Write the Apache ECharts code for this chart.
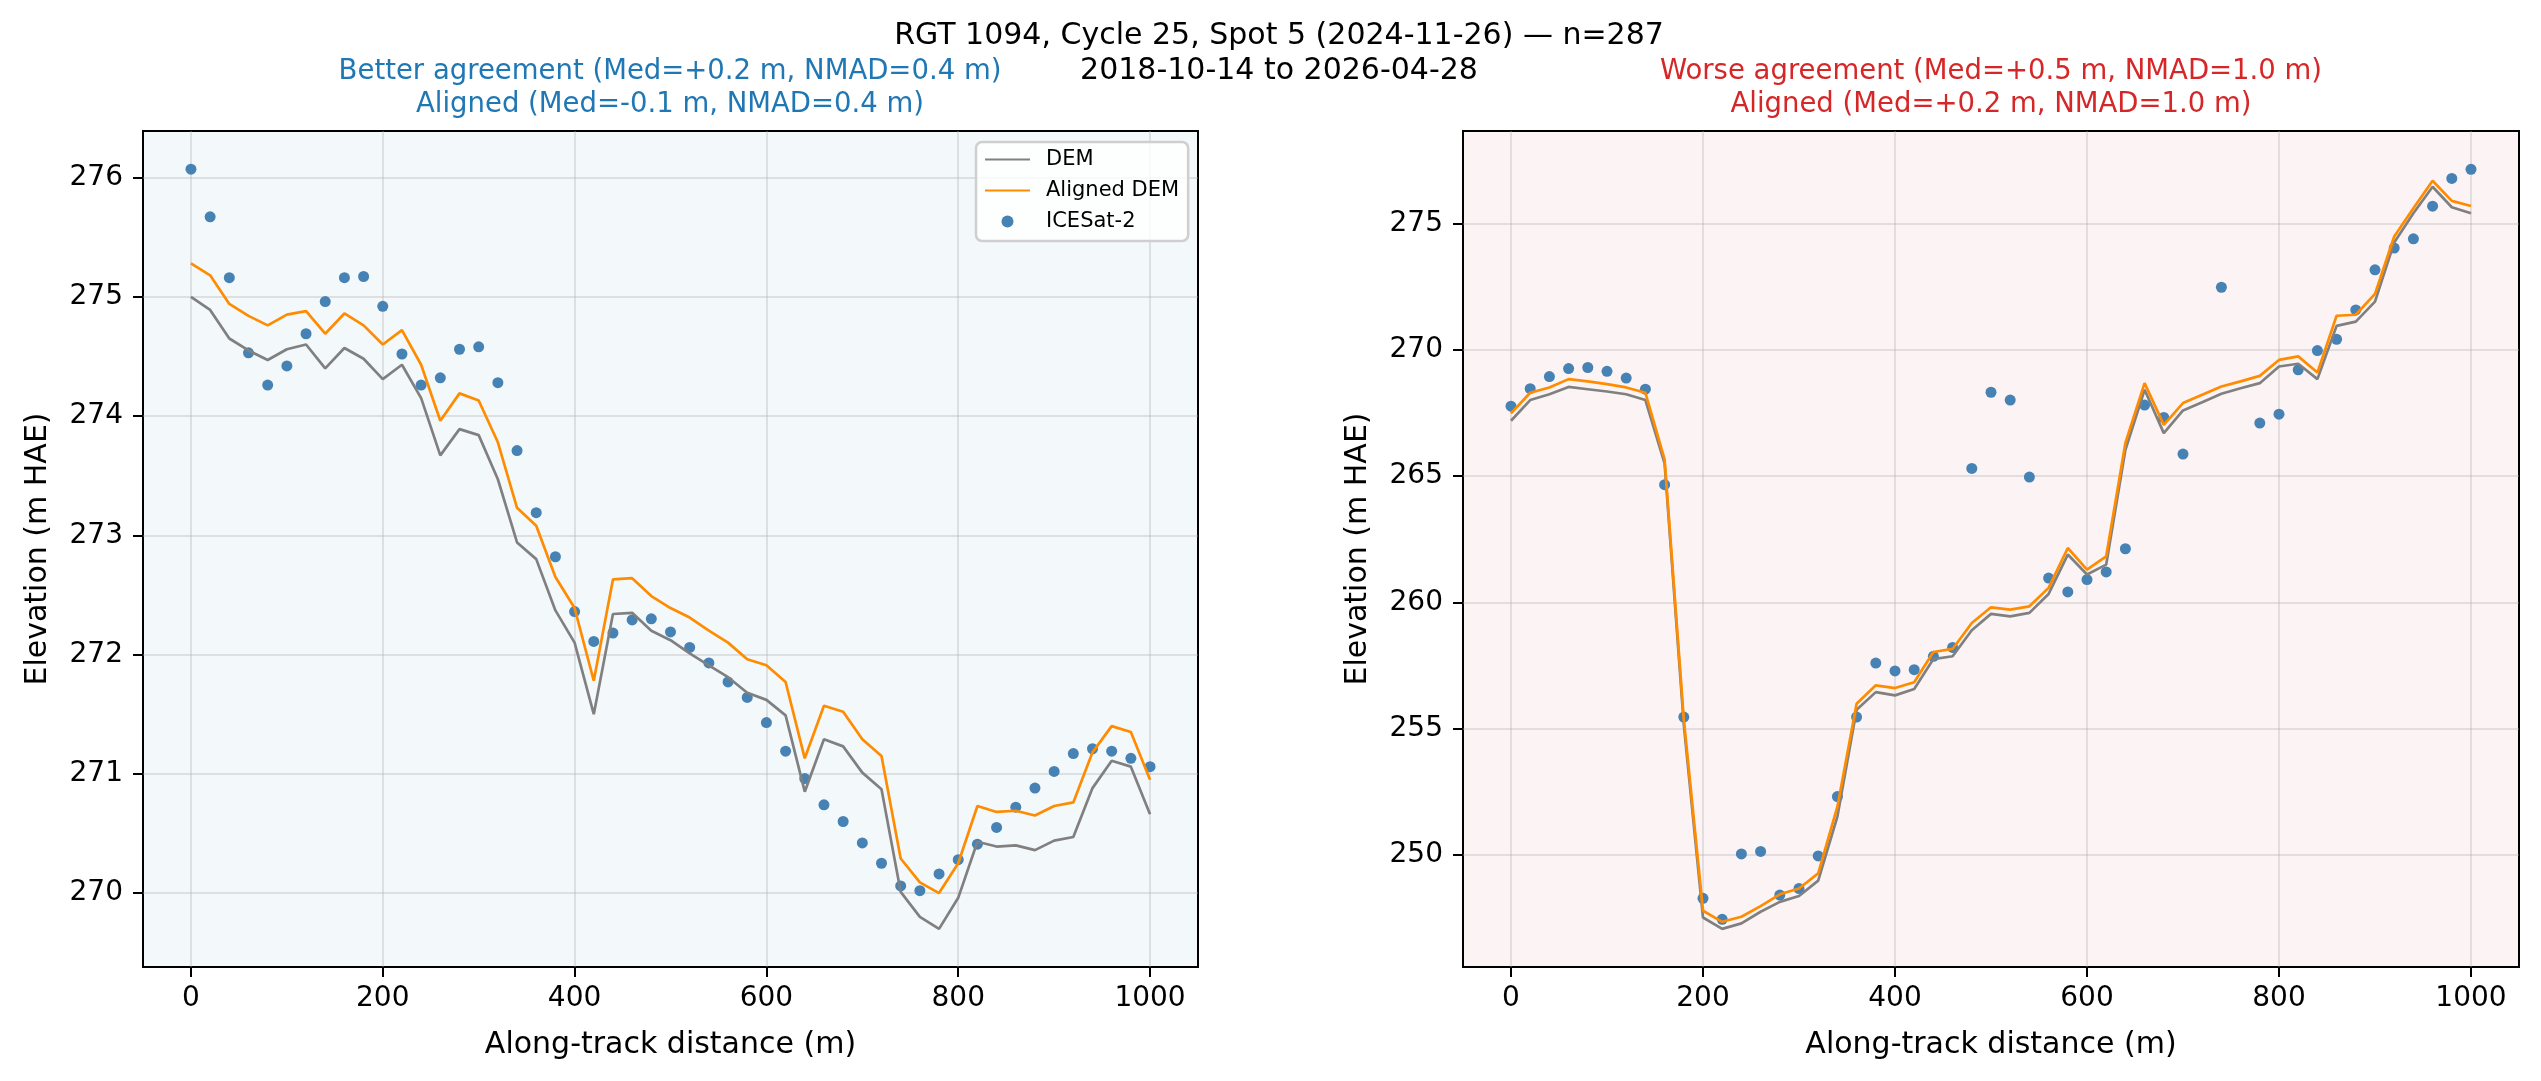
<!DOCTYPE html>
<html>
<head>
<meta charset="utf-8">
<title>RGT 1094 profile</title>
<script src="https://cdn.jsdelivr.net/npm/echarts/dist/echarts.min.js"></script>
<style>
  html, body { margin: 0; padding: 0; background: #fff; }
  #main { width: 2541px; height: 1081px; }
</style>
</head>
<body>
<div id="main"></div>
<script>
// along-track distance (m)
var dist = [0, 20, 40, 60, 80, 100, 120, 140, 160, 180, 200, 220, 240, 260, 280, 300, 320, 340, 360, 380,
  400, 420, 440, 460, 480, 500, 520, 540, 560, 580, 600, 620, 640, 660, 680, 700, 720, 740, 760, 780,
  800, 820, 840, 860, 880, 900, 920, 940, 960, 980, 1000];

// left panel (better agreement)
var leftIce = [276.07, 275.67, 275.16, 274.53, 274.26, 274.42, 274.69, 274.96, 275.16, 275.17,
  274.92, 274.52, 274.26, 274.32, 274.56, 274.58, 274.28, 273.71, 273.19, 272.82,
  272.36, 272.11, 272.18, 272.29, 272.30, 272.19, 272.06, 271.93, 271.77, 271.64,
  271.43, 271.19, 270.96, 270.74, 270.60, 270.42, 270.25, 270.06, 270.02, 270.16,
  270.28, 270.41, 270.55, 270.72, 270.88, 271.02, 271.17, 271.21, 271.19, 271.13, 271.06];
var leftDem = [275.00, 274.89, 274.65, 274.55, 274.47, 274.56, 274.60, 274.40, 274.57, 274.48,
  274.31, 274.43, 274.15, 273.67, 273.89, 273.84, 273.47, 272.94, 272.80, 272.37,
  272.10, 271.50, 272.34, 272.35, 272.20, 272.12, 272.01, 271.91, 271.81, 271.68,
  271.62, 271.49, 270.85, 271.29, 271.23, 271.01, 270.87, 270.01, 269.80, 269.70,
  269.96, 270.43, 270.39, 270.40, 270.36, 270.44, 270.47, 270.88, 271.11, 271.06, 270.66];
var leftAligned = [275.28, 275.18, 274.94, 274.84, 274.76, 274.85, 274.88, 274.69, 274.86, 274.76,
  274.60, 274.72, 274.43, 273.96, 274.19, 274.13, 273.78, 273.23, 273.08, 272.65,
  272.39, 271.78, 272.63, 272.64, 272.49, 272.39, 272.31, 272.20, 272.10, 271.96,
  271.91, 271.77, 271.13, 271.57, 271.52, 271.29, 271.15, 270.29, 270.09, 270.00,
  270.25, 270.73, 270.68, 270.69, 270.65, 270.73, 270.76, 271.18, 271.40, 271.35, 270.95];

// right panel (worse agreement), null = no ICESat-2 point
var rightIce = [267.77, 268.46, 268.94, 269.26, 269.30, 269.15, 268.88, 268.44, 264.66, 255.45,
  248.27, 247.44, 250.03, 250.13, 248.40, 248.66, 249.95, 252.30, 255.45, 257.59,
  257.28, 257.33, 257.86, 258.21, 265.30, 268.32, 268.01, 264.96, 260.96, 260.41,
  260.90, 261.20, 262.12, 267.81, 267.32, 265.87, null, 272.48, null, 267.10,
  267.45, 269.21, 269.97, 270.42, 271.58, 273.17, 274.03, 274.40, 275.69, 276.79, 277.15];
var rightDem = [267.19, 268.01, 268.24, 268.53, 268.44, 268.35, 268.24, 268.01, 265.50, 255.15,
  247.51, 247.06, 247.28, 247.74, 248.13, 248.36, 248.97, 251.51, 255.74, 256.44,
  256.31, 256.56, 257.75, 257.86, 258.89, 259.54, 259.44, 259.58, 260.33, 261.89,
  261.10, 261.49, 266.04, 268.42, 266.70, 267.60, 267.92, 268.26, 268.48, 268.68,
  269.34, 269.45, 268.84, 270.95, 271.12, 271.91, 274.25, 275.41, 276.46, 275.65, 275.41];
var rightAligned = [267.48, 268.30, 268.51, 268.84, 268.75, 268.64, 268.51, 268.30, 265.66, 255.37,
  247.78, 247.34, 247.54, 247.96, 248.43, 248.66, 249.26, 251.90, 255.98, 256.71,
  256.60, 256.83, 258.03, 258.15, 259.18, 259.80, 259.71, 259.84, 260.57, 262.15,
  261.29, 261.82, 266.31, 268.68, 267.03, 267.89, 268.22, 268.55, 268.75, 268.97,
  269.60, 269.74, 269.10, 271.35, 271.39, 272.22, 274.49, 275.61, 276.70, 275.90, 275.70];

// tick labels
var xTicks = [0, 200, 400, 600, 800, 1000];
var leftYTicks = [270, 271, 272, 273, 274, 275, 276];
var rightYTicks = [250, 255, 260, 265, 270, 275];

var FONT = 'DejaVu Sans';

function pairs(ys) {
  var out = [];
  for (var i = 0; i < dist.length; i++) {
    if (ys[i] !== null) out.push([dist[i], ys[i]]);
  }
  return out;
}

function plain(v) { return String(v); }

function xAxisOf(idx) {
  return {
    type: 'value', gridIndex: idx, min: -50, max: 1050,
    name: 'Along-track distance (m)', nameLocation: 'middle', nameGap: 63,
    nameTextStyle: {color: '#000', fontSize: 30, fontFamily: FONT},
    axisLine: {show: false, onZero: false},
    axisTick: {customValues: xTicks, length: 10, lineStyle: {color: '#000', width: 2}},
    axisLabel: {customValues: xTicks, formatter: plain, color: '#000', fontSize: 28, fontFamily: FONT, margin: 18},
    splitLine: {show: true, lineStyle: {color: 'rgba(176,176,176,0.33)', width: 2}}
  };
}

function yAxisOf(idx, min, max, ticks) {
  return {
    type: 'value', gridIndex: idx, min: min, max: max,
    name: 'Elevation (m HAE)', nameLocation: 'middle', nameGap: 90,
    nameTextStyle: {color: '#000', fontSize: 30, fontFamily: FONT},
    axisLine: {show: false, onZero: false},
    axisTick: {customValues: ticks, length: 10, lineStyle: {color: '#000', width: 2}},
    axisLabel: {customValues: ticks, formatter: plain, color: '#000', fontSize: 28, fontFamily: FONT, margin: 20},
    splitLine: {show: true, lineStyle: {color: 'rgba(176,176,176,0.33)', width: 2}}
  };
}

function lineSeries(name, idx, ys, color, z) {
  return {
    name: name, type: 'line', xAxisIndex: idx, yAxisIndex: idx,
    data: pairs(ys), showSymbol: false, symbol: 'none', z: z,
    lineStyle: {color: color, width: 2.7}, itemStyle: {color: color}
  };
}

function iceSeries(idx, ys) {
  return {
    name: 'ICESat-2', type: 'scatter', xAxisIndex: idx, yAxisIndex: idx,
    data: pairs(ys), symbolSize: 11, z: 1,
    itemStyle: {color: '#4682b4', opacity: 1}
  };
}

function label(text, x, y, color, size) {
  return {
    type: 'text', x: x, y: y, silent: true,
    style: {text: text, fill: color, font: size + 'px "' + FONT + '"', textAlign: 'center', textVerticalAlign: 'middle'}
  };
}

var myChart = echarts.init(document.getElementById('main'));
var option = {
  animation: false,
  backgroundColor: '#fff',
  grid: [
    {left: 143, top: 131, width: 1055, height: 836, show: true, backgroundColor: '#f3f8fb', borderColor: '#000', borderWidth: 2},
    {left: 1463, top: 131, width: 1056, height: 836, show: true, backgroundColor: '#fcf3f4', borderColor: '#000', borderWidth: 2}
  ],
  xAxis: [xAxisOf(0), xAxisOf(1)],
  yAxis: [
    yAxisOf(0, 269.38, 276.39, leftYTicks),
    yAxisOf(1, 245.55, 278.67, rightYTicks)
  ],
  legend: {
    orient: 'vertical', left: 976, top: 142,
    data: [
      {name: 'DEM', itemStyle: {opacity: 0}},
      {name: 'Aligned DEM', itemStyle: {opacity: 0}},
      {name: 'ICESat-2', icon: 'circle'}
    ],
    itemWidth: 45, itemHeight: 12, itemGap: 10,
    padding: [7, 9, 9, 8],
    backgroundColor: 'rgba(255,255,255,0.8)', borderColor: '#cfcfcf', borderWidth: 2.5, borderRadius: 6,
    textStyle: {color: '#000', fontSize: 21, fontFamily: FONT, padding: [0, 0, 0, 11]}
  },
  graphic: [
    label('RGT 1094, Cycle 25, Spot 5 (2024-11-26) \u2014 n=287', 1279, 36, '#000', 30),
    label('2018-10-14 to 2026-04-28', 1279, 71, '#000', 30),
    label('Better agreement (Med=+0.2 m, NMAD=0.4 m)', 670, 72, '#1f77b4', 27.5),
    label('Aligned (Med=-0.1 m, NMAD=0.4 m)', 670, 105, '#1f77b4', 27.5),
    label('Worse agreement (Med=+0.5 m, NMAD=1.0 m)', 1991, 72, '#d62728', 27.5),
    label('Aligned (Med=+0.2 m, NMAD=1.0 m)', 1991, 105, '#d62728', 27.5)
  ],
  series: [
    iceSeries(0, leftIce),
    lineSeries('DEM', 0, leftDem, '#808080', 2),
    lineSeries('Aligned DEM', 0, leftAligned, '#ff8c00', 3),
    iceSeries(1, rightIce),
    lineSeries('DEM', 1, rightDem, '#808080', 2),
    lineSeries('Aligned DEM', 1, rightAligned, '#ff8c00', 3)
  ]
};
myChart.setOption(option);
</script>
</body>
</html>
